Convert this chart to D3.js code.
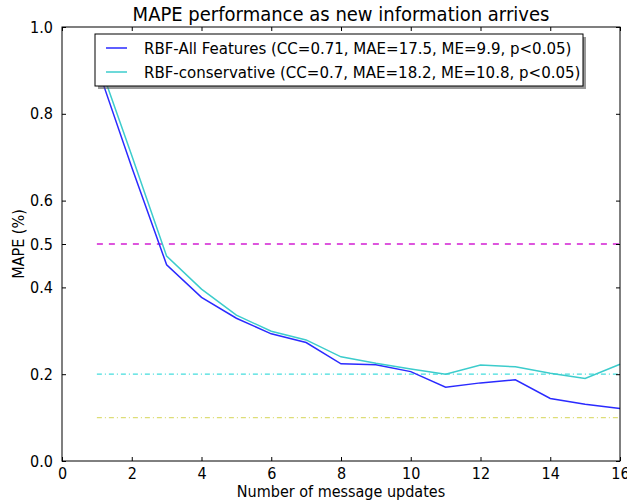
<!DOCTYPE html>
<html>
<head>
<meta charset="utf-8">
<script src="https://cdn.jsdelivr.net/npm/d3@7"></script>
<style>
  html, body { margin: 0; padding: 0; background: #fff; }
  svg { display: block; font-family: "DejaVu Sans Condensed", "DejaVu Sans", sans-serif; }
</style>
</head>
<body>
<svg id="chart" width="627" height="502"></svg>
<script>
// Message update counts on the x axis
const updates = [1, 2, 3, 4, 5, 6, 7, 8, 9, 10, 11, 12, 13, 14, 15, 16];
// MAPE for each model after each update
const allFeatures = [0.911, 0.677, 0.452, 0.377, 0.329, 0.293, 0.273, 0.224, 0.222, 0.206, 0.170, 0.180, 0.187, 0.144, 0.131, 0.121];
const conservative = [0.932, 0.704, 0.472, 0.396, 0.336, 0.299, 0.279, 0.240, 0.225, 0.212, 0.200, 0.221, 0.217, 0.202, 0.190, 0.223];
// Reference levels drawn across the updates
const refLevels = [0.5, 0.2, 0.1];
const seriesNames = [
  "RBF-All Features (CC=0.71, MAE=17.5, ME=9.9, p<0.05)",
  "RBF-conservative (CC=0.7, MAE=18.2, ME=10.8, p<0.05)"
];
const xTicks = [0, 2, 4, 6, 8, 10, 12, 14, 16];
const yTicks = [0.0, 0.2, 0.4, 0.5, 0.6, 0.8, 1.0];

const FONT = "DejaVu Sans Condensed, DejaVu Sans, sans-serif";
const svg = d3.select("#chart");
const m = { left: 62, right: 7, top: 27, bottom: 41 };
const W = 627, H = 502;
const x = d3.scaleLinear().domain([0, 16]).range([m.left, W - m.right]);
const y = d3.scaleLinear().domain([0, 1]).range([H - m.bottom, m.top]);

const plot = svg.append("g");

// Horizontal reference lines
const refStyles = [
  { color: "#dd55dd", dash: "6,6", width: 2 },
  { color: "#44dddd", dash: "5,3,1,3", width: 1.2 },
  { color: "#dddd77", dash: "5,3,1,3", width: 1.2 }
];
refLevels.forEach((v, i) => {
  const s = refStyles[i];
  plot.append("line")
    .attr("x1", x(updates[0])).attr("x2", x(updates[updates.length - 1]))
    .attr("y1", y(v)).attr("y2", y(v))
    .attr("stroke", s.color).attr("stroke-width", s.width)
    .attr("stroke-dasharray", s.dash);
});

const line = d3.line().x((d, i) => x(updates[i])).y(d => y(d));
const colors = ["#2a2aff", "#3ccccc"];
[allFeatures, conservative].forEach((vals, i) => {
  plot.append("path").datum(vals)
    .attr("d", line).attr("fill", "none")
    .attr("stroke", colors[i]).attr("stroke-width", 1.5);
});

// Axes with inward ticks on all four sides
const fmt = d3.format(".1f");
const axB = svg.append("g").attr("transform", `translate(0,${y(0)})`)
  .call(d3.axisBottom(x).tickValues(xTicks).tickSizeInner(-4).tickSizeOuter(0).tickPadding(7).tickFormat(d3.format("d")));
const axT = svg.append("g").attr("transform", `translate(0,${y(1)})`)
  .call(d3.axisTop(x).tickValues(xTicks).tickSizeInner(-4).tickSizeOuter(0).tickFormat(""));
const axL = svg.append("g").attr("transform", `translate(${x(0)},0)`)
  .call(d3.axisLeft(y).tickValues(yTicks).tickSizeInner(-4).tickSizeOuter(0).tickPadding(9).tickFormat(fmt));
const axR = svg.append("g").attr("transform", `translate(${x(16)},0)`)
  .call(d3.axisRight(y).tickValues(yTicks).tickSizeInner(-4).tickSizeOuter(0).tickFormat(""));
[axB, axT, axL, axR].forEach(a => {
  a.select(".domain").remove();
  a.selectAll("line").attr("stroke", "#000");
  a.selectAll("text").attr("font-size", 16).attr("fill", "#000").attr("font-family", FONT);
});

// Frame
svg.append("rect")
  .attr("x", x(0)).attr("y", y(1))
  .attr("width", x(16) - x(0)).attr("height", y(0) - y(1))
  .attr("fill", "none").attr("stroke", "#000").attr("stroke-width", 1);

// Title and axis labels
svg.append("text").attr("x", (x(0) + x(16)) / 2).attr("y", 21)
  .attr("text-anchor", "middle").attr("font-size", 20).text("MAPE performance as new information arrives");
svg.append("text").attr("x", (x(0) + x(16)) / 2).attr("y", 497)
  .attr("text-anchor", "middle").attr("font-size", 16).text("Number of message updates");
svg.append("text").attr("transform", `translate(24,${(y(0) + y(1)) / 2}) rotate(-90)`)
  .attr("text-anchor", "middle").attr("font-size", 16).text("MAPE (%)");

// Legend with drop shadow
const lg = { x: 95, y: 34, w: 488, h: 52 };
svg.append("rect").attr("x", lg.x + 3).attr("y", lg.y + 3).attr("width", lg.w).attr("height", lg.h)
  .attr("fill", "#555").attr("opacity", 0.6);
svg.append("rect").attr("x", lg.x).attr("y", lg.y).attr("width", lg.w).attr("height", lg.h)
  .attr("fill", "#fff").attr("stroke", "#000").attr("stroke-width", 1);
seriesNames.forEach((name, i) => {
  const ly = lg.y + 14 + i * 24;
  svg.append("line").attr("x1", lg.x + 11).attr("x2", lg.x + 32)
    .attr("y1", ly).attr("y2", ly).attr("stroke", colors[i]).attr("stroke-width", 1.5);
  svg.append("text").attr("x", lg.x + 49).attr("y", ly + 6)
    .attr("font-size", 16.7).text(name);
});
</script>
</body>
</html>
